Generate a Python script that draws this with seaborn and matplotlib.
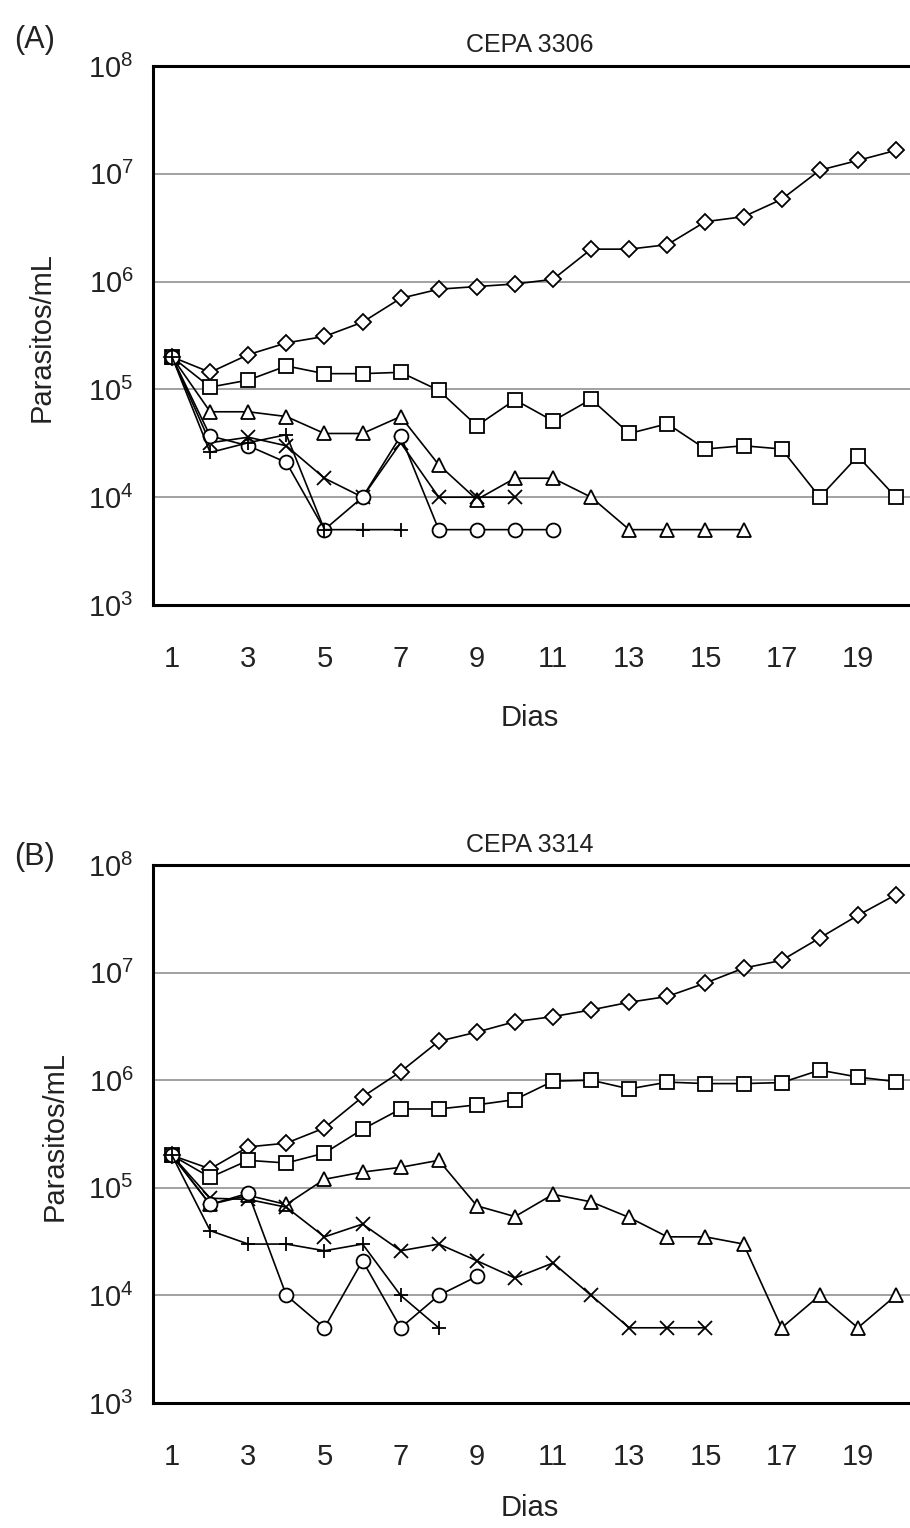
import numpy as np
import pandas as pd
import seaborn as sns
from matplotlib import pyplot as plt
from matplotlib.ticker import FixedLocator, NullFormatter, NullLocator

# ---- data (parasites/mL per day) ----
days = list(range(1, 21))

# CEPA 3306
diamond_a = [2e5, 1.44e5, 2.1e5, 2.7e5, 3.1e5, 4.2e5, 7e5, 8.5e5, 9e5, 9.5e5,
             1.05e6, 2e6, 2e6, 2.2e6, 3.6e6, 4e6, 5.8e6, 1.08e7, 1.33e7, 1.65e7]
square_a = [2e5, 1.05e5, 1.22e5, 1.65e5, 1.4e5, 1.4e5, 1.44e5, 9.8e4, 4.6e4, 8e4,
            5.1e4, 8.1e4, 3.9e4, 4.8e4, 2.8e4, 3e4, 2.8e4, 1e4, 2.4e4, 1e4]
triangle_a = [2e5, 6.2e4, 6.2e4, 5.6e4, 3.9e4, 3.9e4, 5.6e4, 2e4, 9.5e3, 1.5e4,
              1.5e4, 1e4, 5e3, 5e3, 5e3, 5e3]
cross_a = [2e5, 3.2e4, 3.6e4, 3e4, 1.5e4, 1e4, 3.2e4, 1e4, 1e4, 1e4]
circle_a = [2e5, 3.7e4, 3e4, 2.1e4, 5e3, 1e4, 3.7e4, 5e3, 5e3, 5e3, 5e3]
plus_a = [2e5, 2.6e4, 3.2e4, 3.8e4, 5e3, 5e3, 5e3]

# CEPA 3314
diamond_b = [2e5, 1.5e5, 2.4e5, 2.6e5, 3.6e5, 7e5, 1.2e6, 2.3e6, 2.8e6, 3.5e6,
             3.9e6, 4.5e6, 5.3e6, 6e6, 8e6, 1.1e7, 1.3e7, 2.1e7, 3.4e7, 5.3e7]
square_b = [2e5, 1.25e5, 1.8e5, 1.7e5, 2.1e5, 3.5e5, 5.4e5, 5.4e5, 5.9e5, 6.6e5,
            9.8e5, 1e6, 8.3e5, 9.6e5, 9.3e5, 9.3e5, 9.5e5, 1.24e6, 1.07e6, 9.7e5]
triangle_b = [2e5, 7e4, 8.5e4, 7e4, 1.2e5, 1.4e5, 1.55e5, 1.8e5, 6.8e4, 5.4e4,
              8.7e4, 7.4e4, 5.3e4, 3.5e4, 3.5e4, 3e4, 5e3, 1e4, 5e3, 1e4]
cross_b = [2e5, 8e4, 7.8e4, 6.6e4, 3.5e4, 4.6e4, 2.6e4, 3e4, 2.1e4, 1.45e4,
           2e4, 1e4, 5e3, 5e3, 5e3]
circle_b = [2e5, 7e4, 8.9e4, 1e4, 5e3, 2.1e4, 5e3, 1e4, 1.5e4]
plus_b = [2e5, 4e4, 3e4, 3e4, 2.6e4, 3e4, 1e4, 5e3]

panels = [
    ("CEPA 3306", "(A)", [(diamond_a, "D"), (square_a, "s"), (triangle_a, "^"),
                          (cross_a, "x"), (circle_a, "o"), (plus_a, "+")]),
    ("CEPA 3314", "(B)", [(diamond_b, "D"), (square_b, "s"), (triangle_b, "^"),
                          (cross_b, "x"), (circle_b, "o"), (plus_b, "+")]),
]

sns.set_style("white")
plt.rcParams["font.family"] = ["Liberation Sans", "DejaVu Sans"]
plt.rcParams["mathtext.default"] = "regular"
txt = "#222222"

fig = plt.figure(figsize=(9.1, 15.28), dpi=100)
W, H = 910, 1528
# axes boxes in pixels: (left, top, right, bottom)
boxes = [(153, 66, 915, 605), (153, 865, 915, 1403)]
title_y = [45, 845]
tag_y = [40, 857]
ylab_x = [42, 55]
xlab_y = [718, 1508]

for k, (title, tag, series) in enumerate(panels):
    l, t, r, b = boxes[k]
    ax = fig.add_axes([l / W, 1 - b / H, (r - l) / W, (b - t) / H])
    for vals, mk in series:
        ms = 8.5 if mk == "D" else 10
        sns.lineplot(x=days[:len(vals)], y=vals, ax=ax, color="black", lw=1.2,
                     marker=mk, ms=ms, mfc="white", mec="black", mew=1.3,
                     sort=False, errorbar=None)
    ax.set_yscale("log")
    ax.set_ylim(1e3, 1e8)
    ax.set_xlim(0.5, 20.5)
    ax.yaxis.set_major_locator(FixedLocator([10.0 ** p for p in range(3, 9)]))
    ax.yaxis.set_minor_locator(NullLocator())
    ax.set_yticklabels([f"$10^{{{p}}}$" for p in range(3, 9)])
    ax.xaxis.set_major_locator(FixedLocator(list(range(1, 20, 2))))
    ax.set_xticklabels([str(d) for d in range(1, 20, 2)])
    ax.xaxis.set_minor_locator(FixedLocator([d + 0.5 for d in range(0, 21)]))
    ax.xaxis.set_minor_formatter(NullFormatter())
    ax.tick_params(axis="x", which="major", length=0, pad=29, labelsize=21, labelcolor=txt)
    ax.tick_params(axis="x", which="minor", length=7, width=1.2, direction="out", color="#333333")
    ax.tick_params(axis="y", which="major", length=8, width=1.0, direction="out",
                   pad=6, labelsize=21, labelcolor=txt, color="#777777")
    ax.grid(True, axis="y", color="#9a9a9a", lw=1.3)
    ax.grid(False, axis="x")
    for s in ["left", "bottom", "top"]:
        ax.spines[s].set_color("black")
        ax.spines[s].set_linewidth(2.2)
    ax.spines["right"].set_visible(False)
    ax.set_xlabel("")
    ax.set_ylabel("")

    fig.text(530 / W, 1 - title_y[k] / H, title, ha="center", va="center",
             fontsize=18, color=txt)
    fig.text(35 / W, 1 - tag_y[k] / H, tag, ha="center", va="center",
             fontsize=22, color=txt)
    fig.text(ylab_x[k] / W, 1 - ((t + b) / 2 + 2) / H, "Parasitos/mL", rotation=90,
             ha="center", va="center", fontsize=21, color=txt)
    fig.text(530 / W, 1 - xlab_y[k] / H, "Dias", ha="center", va="center",
             fontsize=21, color=txt)

fig.savefig("out.png", dpi=100)
